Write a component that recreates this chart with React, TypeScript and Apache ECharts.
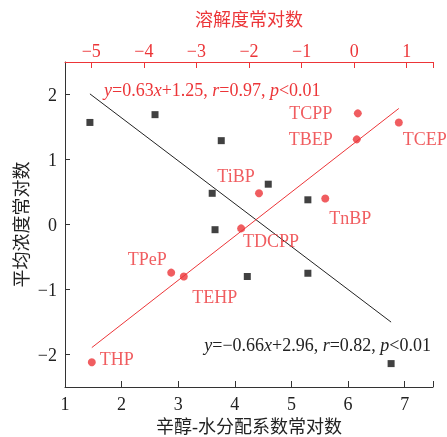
import React, { useEffect, useRef } from 'react';
import * as echarts from 'echarts';

// log Kow (bottom axis) vs log mean concentration — black squares
const kowX = [1.44, 2.59, 3.76, 3.6, 3.65, 4.22, 4.59, 5.29, 5.29, 6.76];
const kowY = [1.57, 1.69, 1.29, 0.48, -0.08, -0.8, 0.62, 0.38, -0.75, -2.14];

// log solubility (top axis) vs log mean concentration — red circles
const solNames = ['TCPP', 'TCEP', 'TBEP', 'TiBP', 'TnBP', 'TDCPP', 'TPeP', 'TEHP', 'THP'];
const solX = [0.07, 0.85, 0.05, -1.81, -0.55, -2.15, -3.48, -3.24, -4.99];
const solY = [1.71, 1.57, 1.31, 0.48, 0.4, -0.06, -0.74, -0.8, -2.12];

// regression lines
const kowFit = { slope: -0.66, intercept: 2.96, from: 1.44, to: 6.76 };
const solFit = { slope: 0.63, intercept: 1.25, from: -4.99, to: 0.85 };

const eqRed = { slope: '0.63', intercept: '1.25', r: '0.97', p: '0.01' };
const eqBlack = { slope: '−0.66', intercept: '2.96', r: '0.82', p: '0.01' };

// tick values
const bottomTicks = [1, 2, 3, 4, 5, 6, 7];
const topTicks = [-5, -4, -3, -2, -1, 0, 1];
const leftTicks = [-2, -1, 0, 1, 2];
const bottomRange = [1, 7.5];
const topRange = [-5.5, 1.5];
const leftRange = [-2.5, 2.5];

const labelOffsets: Record<string, [number, number]> = {
  TCPP: [-47, 0],
  TBEP: [-46, 0],
  TCEP: [26, 17],
  TiBP: [-23, -17],
  TnBP: [25, 19],
  TDCPP: [30, 13],
  TPeP: [-24, -14],
  TEHP: [31, 20],
  THP: [25, -3],
};

const RED = '#ec3538';
const DARK = '#222';
const SERIF = '"Liberation Serif", "Times New Roman", serif';
const CJK = '"Liberation Serif", "Noto Sans CJK SC", serif';

const minus = (v: number) => String(v).replace('-', '−');

export default function App() {
  const ref = useRef<HTMLDivElement>(null);
  useEffect(() => {
    if (!ref.current) return;
    const chart = echarts.init(ref.current, undefined, { renderer: 'svg' });
    const rich = (color: string) => ({
      i: { fontStyle: 'italic', fill: color, fontSize: 18, fontFamily: SERIF },
      n: { fill: color, fontSize: 18, fontFamily: SERIF },
    });
    const eqText = (e: typeof eqRed) =>
      `{i|y}{n|=${e.slope}}{i|x}{n|+${e.intercept}, }{i|r}{n|=${e.r}, }{i|p}{n|<${e.p}}`;

    chart.setOption({
      animation: false,
      grid: { left: 65, right: 14, top: 62, bottom: 50, outerBoundsMode: 'none', containLabel: false },
      xAxis: [
        {
          type: 'value',
          position: 'bottom',
          min: bottomRange[0],
          max: bottomRange[1],
          name: '辛醇-水分配系数常对数',
          nameLocation: 'middle',
          nameGap: 31,
          nameTextStyle: { color: DARK, fontSize: 18, fontFamily: CJK },
          axisLine: { onZero: false, lineStyle: { color: '#333', width: 1 } },
          axisTick: {
            inside: true,
            length: 6,
            customValues: [...bottomTicks, bottomRange[1]],
            lineStyle: { color: '#333' },
          },
          axisLabel: {
            color: DARK,
            fontSize: 18,
            fontFamily: SERIF,
            margin: 8,
            customValues: bottomTicks,
            formatter: (v: number) => minus(v),
          },
          splitLine: { show: false },
        },
        {
          type: 'value',
          position: 'top',
          min: topRange[0],
          max: topRange[1],
          name: '溶解度常对数',
          nameLocation: 'middle',
          nameGap: 33,
          nameTextStyle: { color: RED, fontSize: 18, fontFamily: CJK },
          axisLine: { onZero: false, lineStyle: { color: RED, width: 1 } },
          axisTick: {
            inside: true,
            length: 6,
            customValues: [...topTicks, topRange[1]],
            lineStyle: { color: RED },
          },
          axisLabel: {
            color: RED,
            fontSize: 18,
            fontFamily: SERIF,
            margin: 2,
            customValues: topTicks,
            formatter: (v: number) => minus(v),
          },
          splitLine: { show: false },
        },
      ],
      yAxis: {
        type: 'value',
        min: leftRange[0],
        max: leftRange[1],
        name: '平均浓度常对数',
        nameLocation: 'middle',
        nameGap: 34,
        nameMoveOverlap: false,
        nameTextStyle: { color: DARK, fontSize: 18, fontFamily: CJK },
        axisLine: { show: true, onZero: false, lineStyle: { color: '#333', width: 1 } },
        axisTick: {
          show: true,
          inside: true,
          length: 5,
          customValues: leftTicks,
          lineStyle: { color: '#333' },
        },
        axisLabel: {
          color: DARK,
          fontSize: 18,
          fontFamily: SERIF,
          margin: 8,
          customValues: leftTicks,
          formatter: (v: number) => minus(v),
        },
        splitLine: { show: false },
      },
      series: [
        {
          type: 'line',
          xAxisIndex: 0,
          data: [kowFit.from, kowFit.to].map((x) => [x, kowFit.slope * x + kowFit.intercept]),
          symbol: 'none',
          lineStyle: { color: '#222', width: 1 },
          z: 1,
        },
        {
          type: 'line',
          xAxisIndex: 1,
          data: [solFit.from, solFit.to].map((x) => [x, solFit.slope * x + solFit.intercept]),
          symbol: 'none',
          lineStyle: { color: RED, width: 1 },
          z: 1,
        },
        {
          type: 'scatter',
          xAxisIndex: 0,
          symbol: 'rect',
          symbolSize: 7,
          itemStyle: { color: '#111' },
          data: kowX.map((x, i) => [x, kowY[i]]),
          z: 3,
        },
        {
          type: 'scatter',
          xAxisIndex: 1,
          symbol: 'circle',
          symbolSize: 8,
          itemStyle: { color: RED },
          data: solX.map((x, i) => ({
            name: solNames[i],
            value: [x, solY[i]],
            label: {
              show: true,
              position: 'inside',
              offset: labelOffsets[solNames[i]],
              formatter: '{b}',
              color: RED,
              fontSize: 18,
              fontFamily: SERIF,
              align: 'center',
              verticalAlign: 'middle',
            },
          })),
          z: 3,
        },
      ],
      graphic: [
        {
          type: 'text',
          x: 104,
          y: 90,
          style: {
            text: eqText(eqRed),
            rich: rich(RED),
            fill: RED,
            fontSize: 18,
            fontFamily: SERIF,
            textAlign: 'left',
            textVerticalAlign: 'middle',
          },
        },
        {
          type: 'text',
          x: 431,
          y: 345,
          style: {
            text: eqText(eqBlack),
            rich: rich('#222'),
            fill: '#222',
            fontSize: 18,
            fontFamily: SERIF,
            textAlign: 'right',
            textVerticalAlign: 'middle',
          },
        },
      ],
    });
    return () => chart.dispose();
  }, []);
  return (
    <div
      ref={ref}
      style={{ position: 'fixed', left: 0, top: 0, width: 447, height: 437 }}
    />
  );
}
